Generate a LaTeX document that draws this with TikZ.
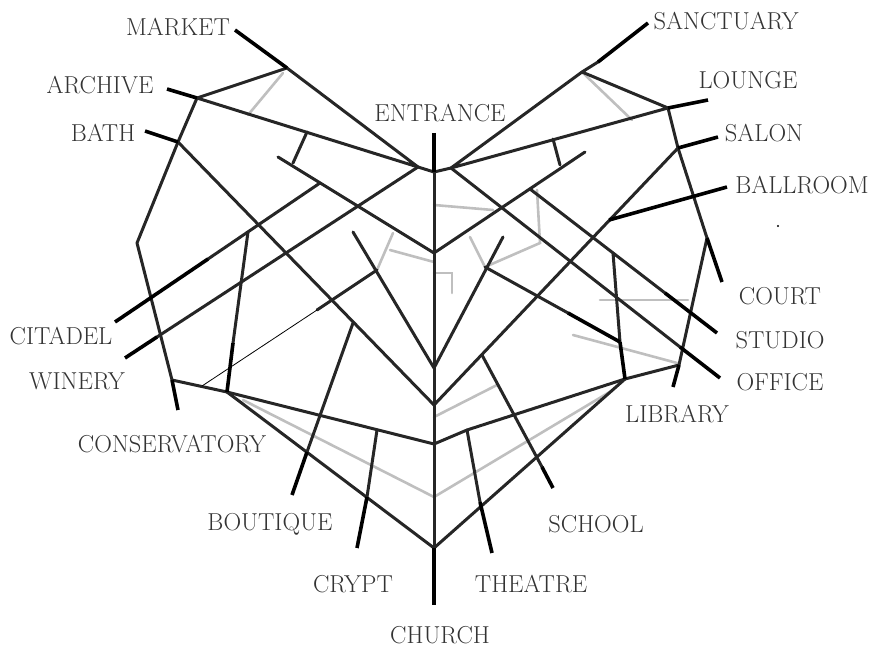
\documentclass[tikz,border=0pt]{standalone}
\usetikzlibrary{positioning}

\begin{document}
\begin{tikzpicture}[x=1pt,y=-1pt,
  road/.style={draw=black!85,line width=3pt,line cap=round,line join=round},
  leader/.style={draw=black,line width=3.6pt},
  faint/.style={draw=black!25,line width=2.6pt,line cap=round},
  thinline/.style={draw=black,line width=0.8pt},
  place/.style={font=\fontsize{24.5}{28}\selectfont,text=black!80,inner sep=0pt}]
  \useasboundingbox (0,0) rectangle (869,647);

  % junctions, left half
  \coordinate (ent) at (434,133);   \coordinate (hubC) at (434,172);
  \coordinate (hubL) at (418,167);  \coordinate (hubR) at (451,168);
  \coordinate (mkt) at (287,68);    \coordinate (mktEnd) at (235,30);
  \coordinate (arc) at (197,98);    \coordinate (arcEnd) at (167,89);
  \coordinate (bth) at (178,142);   \coordinate (bthEnd) at (145,131);
  \coordinate (outL1) at (137,243); \coordinate (outL2) at (172,380);
  \coordinate (conEnd) at (178,410);
  \coordinate (tL0) at (278,157);   \coordinate (tL1) at (293,163);
  \coordinate (tL2) at (307,132);   \coordinate (tL3) at (320,183);
  \coordinate (cen1) at (434,253);
  \coordinate (citK) at (208,259);  \coordinate (citEnd) at (115,322);
  \coordinate (winK) at (157,337);  \coordinate (winEnd) at (125,358);
  \coordinate (vL0) at (248,232);   \coordinate (vL1) at (233,343);
  \coordinate (vL2) at (227,392);
  \coordinate (innL) at (353,232);  \coordinate (innC) at (434,368);
  \coordinate (bathC) at (434,405); \coordinate (lowC) at (434,444);
  \coordinate (botC) at (434,548);  \coordinate (chEnd) at (434,605);
  \coordinate (sL0) at (377,270);   \coordinate (sL1) at (317,310);
  \coordinate (sL2) at (202,386);
  \coordinate (boutTop) at (353,323); \coordinate (boutK) at (307,452);
  \coordinate (boutEnd) at (292,495);
  \coordinate (crTop) at (377,430); \coordinate (crK) at (367,497);
  \coordinate (crEnd) at (357,548);
  % junctions, right half
  \coordinate (san) at (582,72);    \coordinate (sanK) at (598,62);
  \coordinate (sanEnd) at (648,23);
  \coordinate (lng) at (668,108);   \coordinate (lngK) at (683,105);
  \coordinate (lngEnd) at (708,100);
  \coordinate (sal) at (678,148);   \coordinate (salEnd) at (718,137);
  \coordinate (balP) at (609,220);  \coordinate (balEnd) at (727,187);
  \coordinate (outR1) at (707,238); \coordinate (courtEnd) at (722,282);
  \coordinate (outR2) at (679,365); \coordinate (libEnd) at (673,387);
  \coordinate (tR0) at (585,152);   \coordinate (tR1) at (560,165);
  \coordinate (tR2) at (553,139);   \coordinate (tR3) at (530,189);
  \coordinate (stuK) at (665,293);  \coordinate (stuEnd) at (717,333);
  \coordinate (offK) at (680,347);  \coordinate (offEnd) at (720,378);
  \coordinate (vR0) at (613,253);   \coordinate (vR1) at (620,342);
  \coordinate (vR2) at (625,379);
  \coordinate (innR) at (503,237);
  \coordinate (sR0) at (485,267);   \coordinate (sR1) at (568,313);
  \coordinate (rJ) at (467,430);
  \coordinate (schTop) at (482,355); \coordinate (schK) at (542,467);
  \coordinate (schEnd) at (553,488);
  \coordinate (thK) at (480,502);   \coordinate (thEnd) at (492,553);

  % grey back streets
  \draw[faint] (283,73) -- (248,115);
  \draw[faint] (san) -- (632,120);
  \draw[faint] (243,400) -- (434,497) -- (613,390);
  \draw[faint] (434,417) -- (497,385);
  \draw[faint] (573,335) -- (677,363);
  \draw[faint] (600,300) -- (688,300);
  \draw[faint] (sL0) -- (393,233);
  \draw[faint] (390,250) -- (434,262);
  \draw[faint] (470,237) -- (sR0) -- (540,243) -- (537,190);
  \draw[faint] (434,205) -- (493,210);
  \draw[faint] (434,273) -- (452,273) -- (452,293);

  % main streets
  \draw[road] (hubC) -- (botC);
  \draw[road] (hubL) -- (hubC) -- (hubR);
  \draw[road] (arc) -- (mkt) -- (hubL) -- (arc);
  \draw[road] (arc) -- (bth) -- (outL1) -- (outL2) -- (vL2) -- (lowC);
  \draw[road] (vL2) -- (botC);
  \draw[road] (bth) -- (bathC);
  \draw[road] (tL0) -- (cen1);
  \draw[road] (tL1) -- (tL2);
  \draw[road] (tL3) -- (citK);
  \draw[road] (hubL) -- (winK);
  \draw[road] (vL0) -- (vL1);
  \draw[road] (innL) -- (innC) -- (innR);
  \draw[road] (sL0) -- (sL1);
  \draw[road] (boutTop) -- (boutK);
  \draw[road] (crTop) -- (crK);
  \draw[road] (sanK) -- (san) -- (lng) -- (hubR) -- (san);
  \draw[road] (lng) -- (sal) -- (outR1) -- (outR2) -- (vR2) -- (rJ) -- (lowC);
  \draw[road] (vR2) -- (botC);
  \draw[road] (sal) -- (bathC);
  \draw[road] (cen1) -- (tR0);
  \draw[road] (tR1) -- (tR2);
  \draw[road] (tR3) -- (stuK);
  \draw[road] (hubR) -- (offK);
  \draw[road] (vR0) -- (vR1);
  \draw[road] (sR0) -- (sR1);
  \draw[road] (schTop) -- (schK);
  \draw[road] (rJ) -- (thK);
  \draw[thinline] (sL1) -- (sL2);
  \fill (778,226) circle (1.2);

  % leaders to the labels
  \foreach \a/\b in {ent/hubC, botC/chEnd, mktEnd/mkt, arcEnd/arc, bthEnd/bth,
      outL2/conEnd, citK/citEnd, winK/winEnd, vL1/vL2, boutK/boutEnd, crK/crEnd,
      sanEnd/sanK, lngK/lngEnd, sal/salEnd, balP/balEnd, outR1/courtEnd,
      outR2/libEnd, stuK/stuEnd, offK/offEnd, sR1/vR1, vR1/vR2, schK/schEnd,
      thK/thEnd}
    \draw[leader] (\a) -- (\b);
  \draw[leader] (lng) -- (lngK);

  % labels
  \foreach \n/\x/\y/\t in {market/178/27/MARKET, archive/100/85/ARCHIVE,
      bath/103/133/BATH, entrance/440/113/ENTRANCE, sanctuary/726/21/SANCTUARY,
      lounge/748/80/LOUNGE, salon/764/133/SALON, ballroom/802/185/BALLROOM,
      court/780/296/COURT, studio/780/340/STUDIO, office/780/382/OFFICE,
      library/677/414/LIBRARY, school/596/524/SCHOOL, theatre/531/584/THEATRE,
      church/440/635/CHURCH, crypt/353/584/CRYPT, boutique/270/524/BOUTIQUE,
      conservatory/172/444/CONSERVATORY, winery/77/381/WINERY,
      citadel/61/336/CITADEL}
    \node[place] (\n) at (\x,\y) {\t};
\end{tikzpicture}
\end{document}
